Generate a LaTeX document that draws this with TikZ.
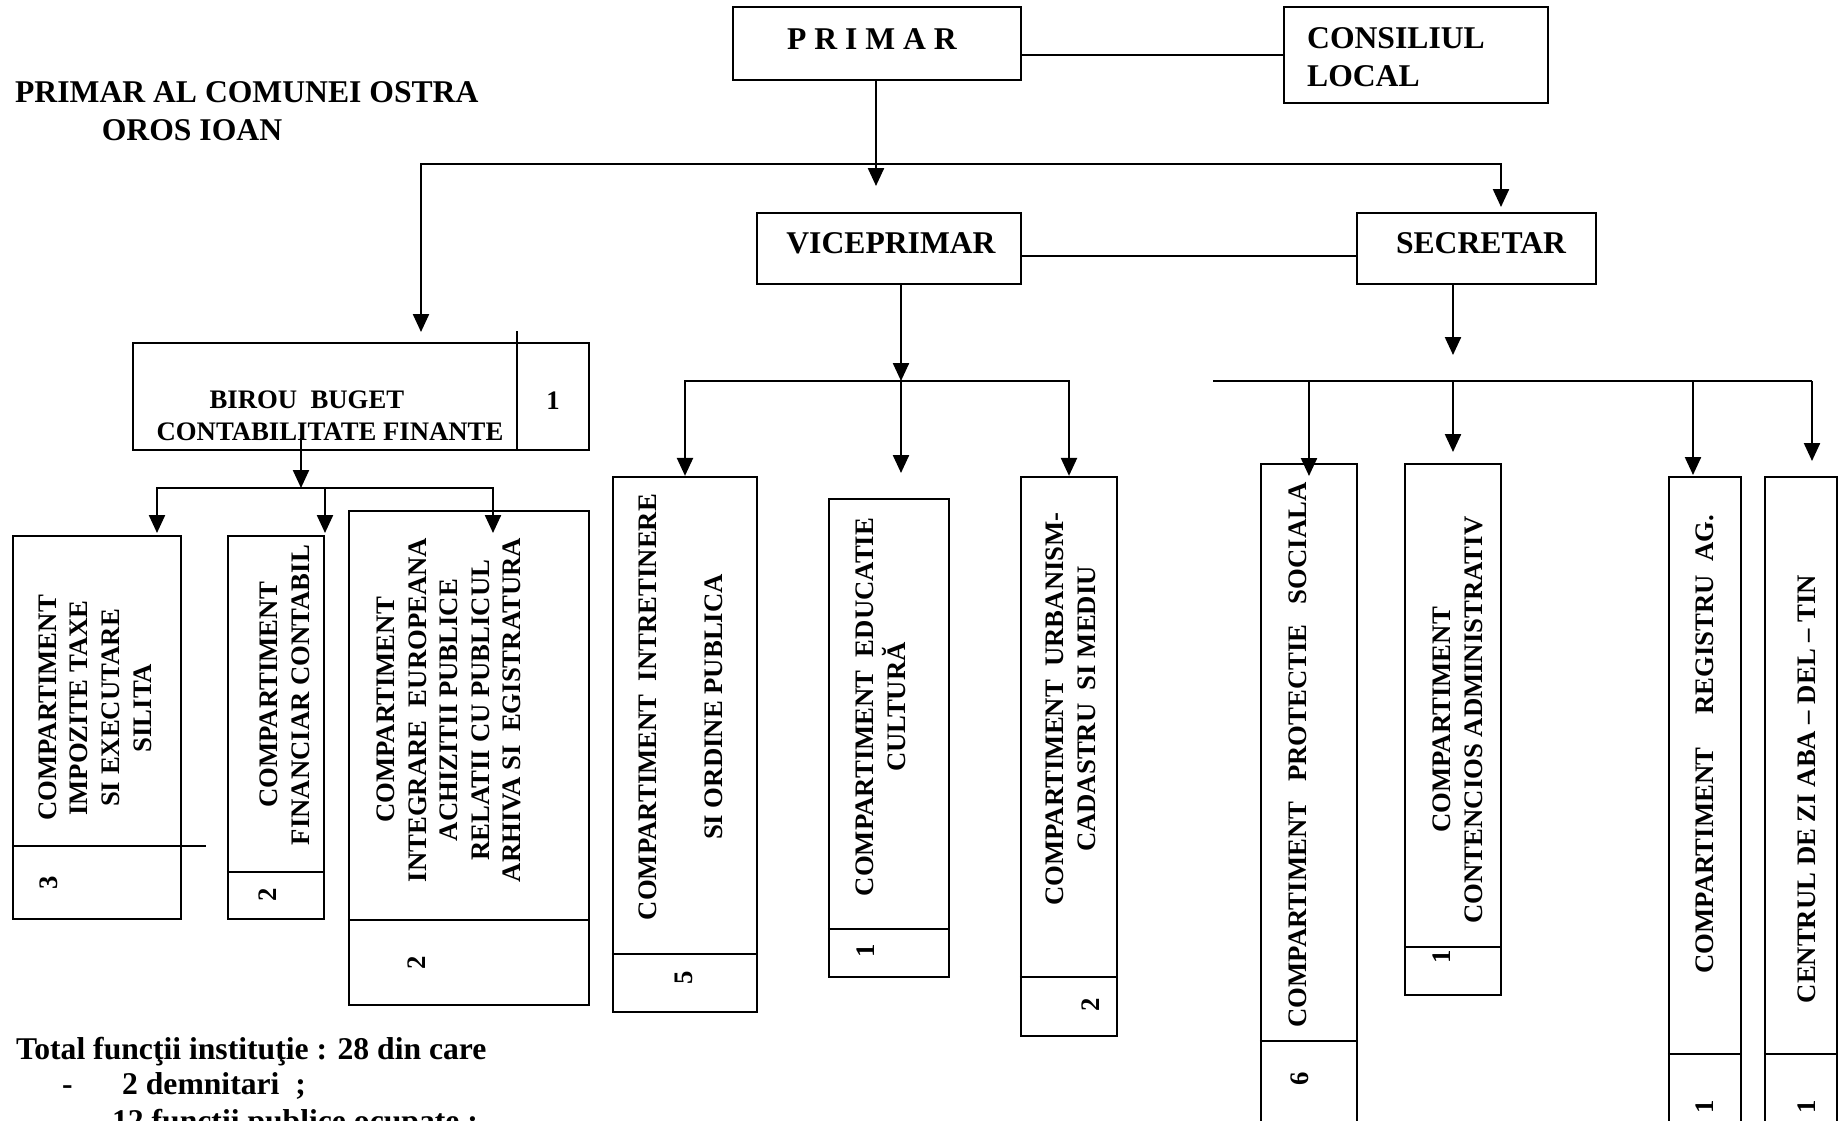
\documentclass[tikz,border=0pt]{standalone}
\usepackage{fontspec}
\setmainfont{Liberation Serif}
\usetikzlibrary{arrows.meta, positioning, fit}

\begin{document}
\begin{tikzpicture}[x=0.01cm, y=-0.01cm, line width=0.65pt,
    >={Triangle[length=0.18cm, width=0.16cm]},
    casuta/.style={rectangle, draw, inner sep=0pt},
    mare/.style={font=\fontsize{9}{10.8}\selectfont\bfseries, inner sep=0pt},
    mic/.style={font=\fontsize{7.6}{9}\selectfont\bfseries, inner sep=0pt},
    vert/.style={mic, rotate=90, align=center}]

    \useasboundingbox (0,0) rectangle (1842,1120);
    \clip (0,0) rectangle (1842,1120);

    \node[mare, anchor=base west] (titlu) at (14,102) {PRIMAR AL COMUNEI OSTRA};
    \node[mare, anchor=base] (nume) at (192,140) {OROS IOAN};

    \node[casuta, fit={(733,7) (1021,80)}] (primar) {};
    \node[mare, anchor=base] (tprimar) at (872,49) {P R I M A R};
    \node[casuta, fit={(1284,7) (1548,103)}] (consiliul) {};
    \node[mare, anchor=west, align=left] (tconsiliul) at (1306,57) {CONSILIUL\\LOCAL};
    \node[casuta, fit={(757,213) (1021,284)}] (viceprimar) {};
    \node[mare, anchor=base] (tvice) at (891,253) {VICEPRIMAR};
    \node[casuta, fit={(1357,213) (1596,284)}] (secretar) {};
    \node[mare, anchor=base] (tsecr) at (1481,253) {SECRETAR};

    \draw (primar.east |- consiliul.west) -- (consiliul.west);
    \coordinate (hvs) at (0,256);
    \draw (viceprimar.east |- hvs) -- (secretar.west |- hvs);

    \coordinate (bara) at (876,164);
    \coordinate (vfvice) at (876,186);
    \coordinate (vfbirou) at (421,332);
    \coordinate (vfsecr) at (1501,207);
    \draw[->] (primar.south -| bara) -- (vfvice);
    \draw[->] (bara) -| (vfbirou);
    \draw[->] (bara) -| (vfsecr);

    % birou buget
    \node[casuta, fit={(133,343) (589,450)}] (birou) {};
    \node[mic, align=left] (tbirou) at (330,416) {\hspace*{0.53cm}BIROU\ \ BUGET\\CONTABILITATE FINANTE};
    \coordinate (sep) at (517,331);
    \draw (sep) -- (sep |- birou.south);
    \node[mic] (nbirou) at (553,401) {1};

    \coordinate (bstart) at (301,438);
    \coordinate (bnod) at (301,488);
    \coordinate (vf1) at (157,533);
    \coordinate (vf2) at (325,533);
    \coordinate (vf3) at (493,533);
    \draw[->] (bstart) -- (bnod);
    \draw[->] (bnod) -| (vf1);
    \draw[->] (bnod) -| (vf3);
    \draw[->] (vf2 |- bnod) -- (vf2);

    \node[casuta, fit={(13,536) (181,919)}] (c1) {};
    \draw (c1.west |- 0,846) -- (206,846);
    \node[vert] (tc1) at (95,708) {COMPARTIMENT\\IMPOZITE TAXE\\SI EXECUTARE\\SILITA};
    \node[vert] (nc1) at (49,883) {3};

    \node[casuta, fit={(228,536) (324,919)}] (c2) {};
    \draw (c2.west |- 0,872) -- (c2.east |- 0,872);
    \node[vert] (tc2) at (285,695) {COMPARTIMENT\\FINANCIAR CONTABIL};
    \node[vert] (nc2) at (268,895) {2};

    \node[casuta, fit={(349,511) (589,1005)}] (c3) {};
    \draw (c3.west |- 0,920) -- (c3.east |- 0,920);
    \node[vert] (tc3) at (449,710) {COMPARTIMENT\\INTEGRARE\ \ EUROPEANA\\ACHIZITII PUBLICE\\RELATII CU PUBLICUL\\ARHIVA SI\ \ EGISTRATURA};
    \node[vert] (nc3) at (417,963) {2};

    % viceprimar
    \coordinate (vnod) at (901,381);
    \coordinate (vf5) at (901,473);
    \draw[->] (viceprimar.south -| vnod) -- (vnod);

    \node[casuta, fit={(613,477) (757,1012)}] (c4) {};
    \node[casuta, fit={(829,499) (949,977)}] (c5) {};
    \node[casuta, fit={(1021,477) (1117,1036)}] (c6) {};
    \draw[->] (vnod) -| (c4.north);
    \draw[->] (vnod) -- (vf5);
    \draw[->] (vnod) -| (c6.north);

    \draw (c4.west |- 0,954) -- (c4.east |- 0,954);
    \node[vert] (tc4) at (681,707) {COMPARTIMENT\ \ INTRETINERE\\[9.8pt]SI ORDINE PUBLICA};
    \node[vert] (nc4) at (684,978) {5};

    \draw (c5.west |- 0,929) -- (c5.east |- 0,929);
    \node[vert] (tc5) at (881,707) {COMPARTIMENT\ \ EDUCATIE\\CULTURĂ};
    \node[vert] (nc5) at (866,951) {1};

    \draw (c6.west |- 0,977) -- (c6.east |- 0,977);
    \node[vert] (tc6) at (1071,709) {COMPARTIMENT\ \ URBANISM-\\CADASTRU\ \ SI MEDIU};
    \node[vert] (nc6) at (1091,1005) {2};

    % secretar
    \coordinate (snod) at (1453,381);
    \coordinate (vfs) at (1453,355);
    \coordinate (sst) at (1213,381);
    \coordinate (sdr) at (1812,381);
    \coordinate (vf7) at (1309,476);
    \coordinate (vf8) at (1453,452);
    \coordinate (vf9) at (1693,475);
    \coordinate (vf10) at (1812,461);
    \draw[->] (secretar.south -| snod) -- (vfs);
    \draw (sst) -- (sdr);
    \draw[->] (vf7 |- snod) -- (vf7);
    \draw[->] (snod) -- (vf8);
    \draw[->] (vf9 |- snod) -- (vf9);
    \draw[->] (sdr) -- (vf10);

    \node[casuta, fit={(1261,464) (1357,1140)}] (c7) {};
    \draw (c7.west |- 0,1041) -- (c7.east |- 0,1041);
    \node[vert] (tc7) at (1298,755) {COMPARTIMENT\ \ \ PROTECTIE\ \ \ SOCIALA};
    \node[vert] (nc7) at (1300,1079) {6};

    \node[casuta, fit={(1405,464) (1501,995)}] (c8) {};
    \draw (c8.west |- 0,947) -- (c8.east |- 0,947);
    \node[vert] (tc8) at (1458,720) {COMPARTIMENT\\CONTENCIOS ADMINISTRATIV};
    \node[vert] (nc8) at (1442,957) {1};

    \node[casuta, fit={(1669,477) (1741,1140)}] (c9) {};
    \draw (c9.west |- 0,1054) -- (c9.east |- 0,1054);
    \node[vert] (tc9) at (1705,744) {COMPARTIMENT\ \ \ \ \ REGISTRU\ \ AG.};
    \node[vert] (nc9) at (1705,1107) {1};

    \node[casuta, fit={(1765,477) (1837,1140)}] (c10) {};
    \draw (c10.west |- 0,1054) -- (c10.east |- 0,1054);
    \node[vert] (tc10) at (1807,789) {CENTRUL DE ZI ABA -- DEL -- TIN};
    \node[vert] (nc10) at (1807,1107) {1};

    % total
    \node[mare, anchor=base west] (total) at (15,1059) {Total funcţii instituţie : 28 din care};
    \node[mare, anchor=base west] (cratima1) at (61,1094) {-};
    \node[mare, anchor=base west] (demn) at (121,1094) {2 demnitari\ \ ;};
    \node[mare, anchor=base west] (cratima2) at (61,1131) {-};
    \node[mare, anchor=base west] (publice) at (111,1131) {12 funcţii publice ocupate ;};
\end{tikzpicture}
\end{document}
